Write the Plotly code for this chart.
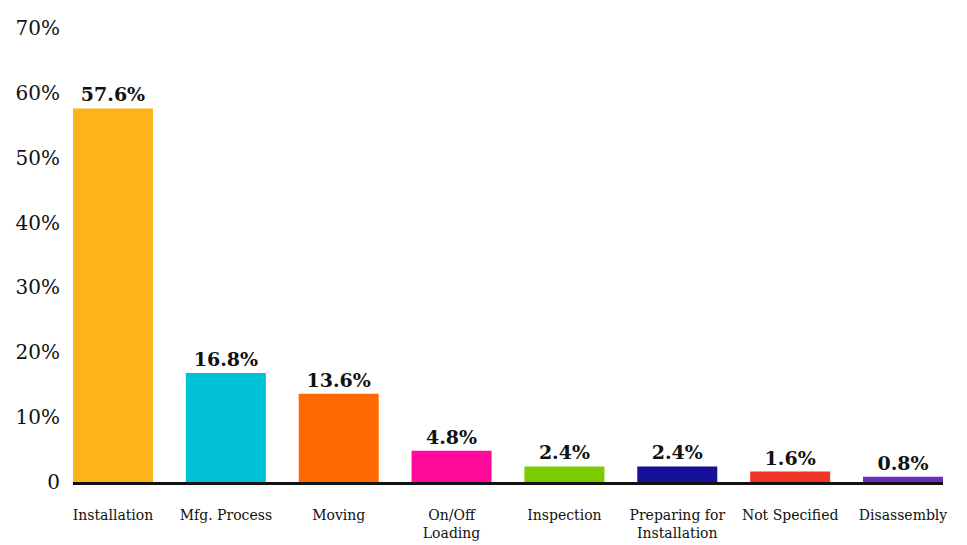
import plotly.graph_objects as go

categories = ["Installation", "Mfg. Process", "Moving", "On/Off<br>Loading", "Inspection",
              "Preparing for<br>Installation", "Not Specified", "Disassembly"]
values = [57.6, 16.8, 13.6, 4.8, 2.4, 2.4, 1.6, 0.8]
colors = ["#FDB41A", "#00C1D5", "#FF6A00", "#FF0A9A", "#7ACC00", "#17109A", "#EE3528", "#6E2BC0"]
tick_vals = [0, 10, 20, 30, 40, 50, 60, 70]
tick_text = ["0", "10%", "20%", "30%", "40%", "50%", "60%", "70%"]

FONT = "DejaVu Serif"

fig = go.Figure(go.Bar(
    x=categories,
    y=values,
    marker=dict(color=colors, line=dict(width=0)),
    texttemplate="<b>%{y}%</b>",
    textposition="outside",
    textfont=dict(family=FONT, size=19, color="#111111"),
    cliponaxis=False,
    width=0.709,
))

fig.update_layout(
    width=967, height=545,
    margin=dict(l=65, r=32, t=20, b=71, autoexpand=False),
    paper_bgcolor="white", plot_bgcolor="white",
    showlegend=False,
    font=dict(family=FONT, color="#111111"),
    xaxis=dict(
        range=[-0.3545, 7.3545], automargin=False,
        showline=True, linecolor="#111111", linewidth=3,
        showgrid=False, ticks="", tickfont=dict(family=FONT, size=14, color="#111111"),
        ticklabelstandoff=18,
    ),
    yaxis=dict(
        range=[0, 70], automargin=False,
        tickvals=tick_vals, ticktext=tick_text,
        showgrid=False, zeroline=False, showline=False, ticks="",
        tickfont=dict(family=FONT, size=20, color="#111111"),
        ticklabelstandoff=12,
    ),
)

fig.write_html("out.html")
